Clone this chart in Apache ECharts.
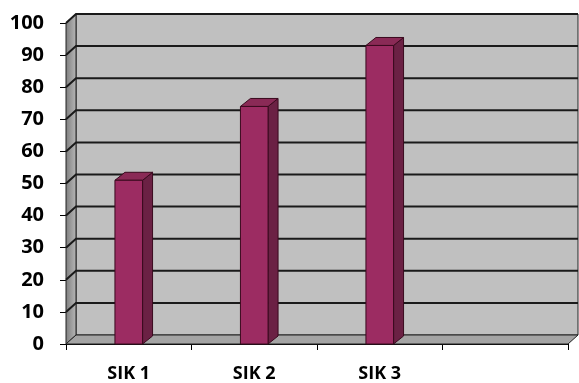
<!DOCTYPE html>
<html>
<head>
<meta charset="utf-8">
<script src="https://cdn.jsdelivr.net/npm/echarts@6/dist/echarts.min.js"></script>
<style>
  html, body { margin: 0; padding: 0; background: #fff; }
  #chart { width: 579px; height: 383px; }
</style>
</head>
<body>
<div id="chart"></div>
<script>
var categories = ["SIK 1", "SIK 2", "SIK 3", ""];
var values = [51, 74, 93];
var yTicks = [0, 10, 20, 30, 40, 50, 60, 70, 80, 90, 100];

// depth of the 3D box (pixels)
var DX = 10, DY = -9;

var chartDom = document.getElementById("chart");
var myChart = echarts.init(chartDom);

function renderWalls(params, api) {
  var cs = params.coordSys;
  var x0 = cs.x, x1 = cs.x + cs.width;
  var yTop = cs.y, yBase = cs.y + cs.height;
  var children = [];
  // back wall
  children.push({
    type: "rect",
    shape: { x: x0 + DX, y: yTop + DY, width: cs.width, height: cs.height },
    style: { fill: "#c0c0c0", stroke: "#222", lineWidth: 1 }
  });
  // left wall
  children.push({
    type: "polygon",
    shape: { points: [[x0, yTop], [x0 + DX, yTop + DY], [x0 + DX, yBase + DY], [x0, yBase]] },
    style: {
      fill: new echarts.graphic.LinearGradient(0, 0, 1, 0, [
        { offset: 0, color: "#7d7d7d" },
        { offset: 1, color: "#b8b8b8" }
      ]),
      stroke: "#222", lineWidth: 1
    }
  });
  // floor
  children.push({
    type: "polygon",
    shape: { points: [[x0, yBase], [x0 + DX, yBase + DY], [x1 + DX, yBase + DY], [x1, yBase]] },
    style: { fill: "#a4a4a4", stroke: "#222", lineWidth: 1 }
  });
  // gridlines
  yTicks.forEach(function (v) {
    if (v === 0) return;
    var y = api.coord([0, v])[1];
    children.push({
      type: "polyline",
      shape: { points: [[x0, y], [x0 + DX, y + DY], [x1 + DX, y + DY]] },
      style: { stroke: "#1a1a1a", lineWidth: 2, fill: null }
    });
  });
  return { type: "group", children: children };
}

function renderBar(params, api) {
  var idx = api.value(0);
  var top = api.coord([idx, api.value(1)]);
  var base = api.coord([idx, 0]);
  var w = api.size([1, 0])[0] * 0.22;
  var bx = top[0] - w / 2, bdx = 10, bdy = -8;
  var ty = top[1], by = base[1];
  return {
    type: "group",
    children: [
      {
        type: "polygon",
        shape: { points: [[bx + w, ty], [bx + w + bdx, ty + bdy], [bx + w + bdx, by + bdy], [bx + w, by]] },
        style: { fill: "#6b2144", stroke: "#3a0a1e", lineWidth: 1 }
      },
      {
        type: "polygon",
        shape: { points: [[bx, ty], [bx + bdx, ty + bdy], [bx + w + bdx, ty + bdy], [bx + w, ty]] },
        style: { fill: "#8a2a56", stroke: "#3a0a1e", lineWidth: 1 }
      },
      {
        type: "rect",
        shape: { x: bx, y: ty, width: w, height: by - ty },
        style: { fill: "#9c2c62", stroke: "#3a0a1e", lineWidth: 1 }
      }
    ]
  };
}

var option = {
  animation: false,
  grid: { left: 66, right: 11, top: 23, bottom: 39 },
  xAxis: {
    type: "category",
    data: categories,
    boundaryGap: true,
    axisLine: { show: true, lineStyle: { color: "#000", width: 1 } },
    axisTick: { show: true, alignWithLabel: false, length: 6, lineStyle: { color: "#000" } },
    axisLabel: {
      margin: 21,
      color: "#000",
      fontFamily: "Open Sans",
      fontWeight: "bold",
      fontSize: 18
    },
    splitLine: { show: false }
  },
  yAxis: {
    type: "value",
    min: 0,
    max: 100,
    interval: 10,
    axisLine: { show: true, lineStyle: { color: "#000", width: 1 } },
    axisTick: { show: true, length: 6, lineStyle: { color: "#000" } },
    axisLabel: {
      margin: 22,
      color: "#000",
      fontFamily: "Open Sans",
      fontWeight: "bold",
      fontSize: 20
    },
    splitLine: { show: false }
  },
  series: [
    {
      name: "walls",
      type: "custom",
      renderItem: renderWalls,
      data: [[0, 0]],
      z: 1,
      silent: true
    },
    {
      name: "bars",
      type: "custom",
      renderItem: renderBar,
      data: values.map(function (v, i) { return [i, v]; }),
      z: 3
    }
  ]
};
option && myChart.setOption(option);
</script>
</body>
</html>
